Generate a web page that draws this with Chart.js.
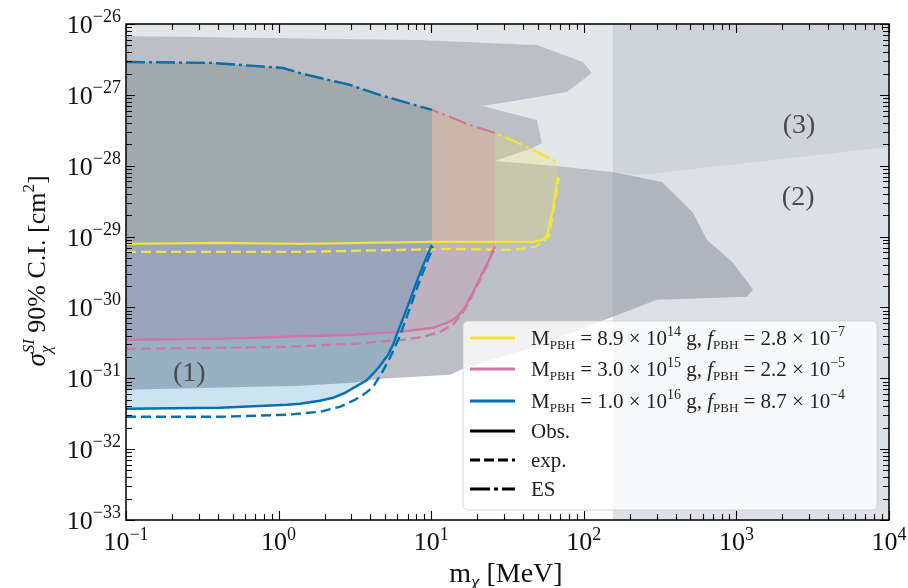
<!DOCTYPE html>
<html>
<head>
<meta charset="utf-8">
<script src="https://cdn.jsdelivr.net/npm/chart.js@4.4.1/dist/chart.umd.min.js"></script>
<style>
  html, body { margin: 0; padding: 0; background: #fff; }
  #wrap { width: 908px; height: 588px; }
</style>
</head>
<body>
<div id="wrap"><canvas id="chart" width="908" height="588"></canvas></div>
<script>
// ---- axis ranges / ticks ----
const xRange = [0.1, 1e4];
const yRange = [1e-33, 1e-26];
const xTickExps = [-1, 0, 1, 2, 3, 4];
const yTickExps = [-33, -32, -31, -30, -29, -28, -27, -26];

// ---- PBH curves: m_chi [MeV] vs sigma [cm^2] ----
// ES (dash-dot) upper edges
const esBlueMass = [0.1, 0.371, 1.07, 1.445, 2.94, 4.83, 10.1];
const esBlueSigma = [2.91e-27, 2.82e-27, 2.39e-27, 1.97e-27, 1.38e-27, 9.64e-28, 6.12e-28];
const esPinkMass = [0.1, 0.371, 1.07, 1.445, 2.94, 4.83, 10.1, 11.4, 17.9, 26.2];
const esPinkSigma = [2.91e-27, 2.82e-27, 2.39e-27, 1.97e-27, 1.38e-27, 9.64e-28, 6.12e-28, 5.56e-28, 3.76e-28, 2.90e-28];
const esYellowMass = [0.1, 0.371, 1.07, 1.445, 2.94, 4.83, 10.1, 11.4, 17.9, 26.2, 31.4, 46.4, 66.7];
const esYellowSigma = [2.91e-27, 2.82e-27, 2.39e-27, 1.97e-27, 1.38e-27, 9.64e-28, 6.12e-28, 5.56e-28, 3.76e-28, 2.90e-28, 2.47e-28, 1.67e-28, 1.13e-28];

// observed (solid) lower edges
const obsBlueMass = [0.1, 0.413, 1.135, 1.38, 1.867, 2.27, 2.72, 3.27, 3.74, 4.16, 4.62, 5.21, 5.62, 5.97, 6.44, 6.94, 7.48, 8.07, 8.56, 9.10, 10.1];
const obsBlueSigma = [3.71e-32, 3.84e-32, 4.23e-32, 4.37e-32, 4.82e-32, 5.31e-32, 6.24e-32, 7.84e-32, 9.23e-32, 1.16e-31, 1.50e-31, 2.14e-31, 2.96e-31, 4.24e-31, 6.47e-31, 9.87e-31, 1.51e-30, 2.37e-30, 3.28e-30, 4.54e-30, 7.64e-30];
const obsPinkMass = [0.1, 0.413, 1.135, 3.07, 6.24, 10.3, 12.7, 13.9, 14.98, 16.2, 17.4, 18.8, 20.3, 21.8, 23.6, 25.0, 26.2];
const obsPinkSigma = [3.49e-31, 3.61e-31, 3.85e-31, 4.11e-31, 4.53e-31, 5.16e-31, 6.07e-31, 6.68e-31, 7.62e-31, 9.25e-31, 1.20e-30, 1.66e-30, 2.30e-30, 3.18e-30, 4.40e-30, 6.08e-30, 7.16e-30];
const obsYellowMass = [0.1, 0.413, 1.38, 9.82, 20.9, 46.4, 53.2, 57.4, 62.9, 67.7];
const obsYellowSigma = [7.89e-30, 8.15e-30, 7.89e-30, 8.41e-30, 8.41e-30, 8.41e-30, 8.98e-30, 1.02e-29, 2.62e-29, 6.95e-29];

// expected (dashed)
const expBlueMass = [0.1, 0.413, 1.135, 1.867, 2.52, 3.17, 3.74, 4.16, 4.76, 5.37, 5.79, 6.24, 6.73, 7.26, 7.83, 8.45, 9.39, 10.3];
const expBlueSigma = [2.86e-32, 2.86e-32, 3.06e-32, 3.37e-32, 3.96e-32, 4.97e-32, 6.24e-32, 7.59e-32, 1.20e-31, 1.95e-31, 2.78e-31, 3.98e-31, 6.27e-31, 9.87e-31, 1.56e-30, 2.45e-30, 4.40e-30, 7.16e-30];
const expPinkMass = [0.1, 0.413, 1.135, 3.07, 6.53, 8.84, 11.4, 13.9, 16.2, 17.4, 18.8, 20.3, 21.8, 23.6, 25.0, 26.2];
const expPinkSigma = [2.61e-31, 2.69e-31, 2.78e-31, 3.07e-31, 3.49e-31, 3.85e-31, 4.53e-31, 5.69e-31, 8.67e-31, 1.12e-30, 1.56e-30, 2.15e-30, 2.98e-30, 4.12e-30, 5.70e-30, 6.71e-30];
const expYellowMass = [0.1, 1.38, 13.3, 34.4, 47.9, 54.0, 59.2, 63.8, 68.8];
const expYellowSigma = [6.08e-30, 6.08e-30, 6.71e-30, 6.49e-30, 7.16e-30, 8.41e-30, 1.02e-29, 2.62e-29, 6.73e-29];

// ---- other exclusion regions ----
const grayMass = [0.1, 8.45, 49.3, 98.8, 113, 77.6, 38.2, 21.8, 49.3, 53.2, 46.4, 26.2, 66.7, 155, 325, 520, 642, 950, 1284, 1173, 302, 155, 51.6, 16.2, 13.3, 4.62, 3.07, 1.38, 0.1];
const graySigma = [6.77e-27, 5.95e-27, 5.06e-27, 2.91e-27, 2.04e-27, 1.10e-27, 8.47e-28, 6.97e-28, 4.43e-28, 2.10e-28, 1.78e-28, 1.17e-28, 9.94e-29, 8.18e-29, 5.91e-29, 2.16e-29, 8.98e-30, 4.26e-30, 1.77e-30, 1.41e-30, 1.28e-30, 7.37e-31, 2.96e-31, 1.36e-31, 1.12e-31, 9.84e-32, 8.65e-32, 7.84e-32, 6.88e-32];
const region3Mass = [0.1, 1e4, 1e4, 233, 155, 66.7, 26.2, 46.4, 53.2, 49.3, 21.8, 38.2, 77.6, 113, 98.8, 49.3, 8.45, 0.1];
const region3Sigma = [1e-26, 1e-26, 1.84e-28, 7.41e-29, 8.18e-29, 9.94e-29, 1.17e-28, 1.78e-28, 2.10e-28, 4.43e-28, 6.97e-28, 8.47e-28, 1.10e-27, 2.04e-27, 2.91e-27, 5.06e-27, 5.95e-27, 6.77e-27];
const bandMass = [155, 1e4, 1e4, 155];
const bandSigma = [1e-26, 1e-26, 1e-33, 1e-33];

const regionLabels = ['(1)', '(2)', '(3)'];
const regionLabelMass = [0.26, 2540, 2570];
const regionLabelSigma = [1.24e-31, 3.75e-29, 3.89e-28];

const legendColors = ['#f0e442', '#cc79a7', '#0072b2'];
const legendMass = ['8.9', '3.0', '1.0'];
const legendMassExp = ['14', '15', '16'];
const legendF = ['2.8', '2.2', '8.7'];
const legendFExp = ['−7', '−5', '−4'];
const styleNames = ['Obs.', 'exp.', 'ES'];

const YEL = '#f0e442', PNK = '#cc79a7', BLU = '#0072b2';
const DASH = [10, 5];
const DASHDOT = [19, 4, 3, 4];

function pts(m, s) { return m.map((v, i) => ({x: v, y: s[i]})); }
function closed(topM, topS, botM, botS) {
    return pts(topM.concat(botM.slice().reverse()), topS.concat(botS.slice().reverse()));
}

function area(data, color, order) {
    return {data: data, fill: 'shape', backgroundColor: color, borderWidth: 0,
            pointRadius: 0, tension: 0, order: order};
}
function curve(m, s, color, dash, order) {
    return {data: pts(m, s), fill: false, borderColor: color, borderWidth: 2.4,
            borderDash: dash, pointRadius: 0, tension: 0, order: order};
}

const SERIF = '"Liberation Serif", "DejaVu Serif", serif';
function fontOf(p) { return (p.it ? 'italic ' : '') + p.s + 'px ' + SERIF; }

// rich text: parts {t, s, dy, it} or {stack:{sup, sub}, s, it}
function richWidth(ctx, parts) {
    let w = 0;
    parts.forEach(p => {
        ctx.font = fontOf(p);
        if (p.stack) {
            w += Math.max(ctx.measureText(p.stack.sup).width, ctx.measureText(p.stack.sub).width);
        } else {
            w += ctx.measureText(p.t).width;
        }
    });
    return w;
}
function rich(ctx, parts, x, y, align) {
    const w = richWidth(ctx, parts);
    let cx = align === 'center' ? x - w / 2 : (align === 'right' ? x - w : x);
    ctx.textAlign = 'left';
    ctx.textBaseline = 'alphabetic';
    parts.forEach(p => {
        ctx.font = fontOf(p);
        if (p.stack) {
            ctx.fillText(p.stack.sup, cx, y - 11);
            ctx.fillText(p.stack.sub, cx, y + 6);
            cx += Math.max(ctx.measureText(p.stack.sup).width, ctx.measureText(p.stack.sub).width);
        } else {
            ctx.fillText(p.t, cx, y + (p.dy || 0));
            cx += ctx.measureText(p.t).width;
        }
    });
}

// frame, inward ticks, labels, legend
const decor = {
    id: 'decor',
    afterDatasetsDraw(chart) {
        const {ctx, chartArea: a, scales: {x, y}} = chart;
        ctx.save();
        ctx.strokeStyle = '#000';
        ctx.lineWidth = 1.1;
        ctx.beginPath();
        for (let e = xTickExps[0]; e <= xTickExps[xTickExps.length - 1]; e++) {
            for (let k = 1; k <= 9; k++) {
                if (e === xTickExps[xTickExps.length - 1] && k > 1) break;
                const px = Math.round(x.getPixelForValue(k * Math.pow(10, e))) + 0.5;
                const len = k === 1 ? 9 : 6;
                ctx.moveTo(px, a.bottom); ctx.lineTo(px, a.bottom - len);
                ctx.moveTo(px, a.top); ctx.lineTo(px, a.top + len);
            }
        }
        for (let e = yTickExps[0]; e <= yTickExps[yTickExps.length - 1]; e++) {
            for (let k = 1; k <= 9; k++) {
                if (e === yTickExps[yTickExps.length - 1] && k > 1) break;
                const py = Math.round(y.getPixelForValue(k * Math.pow(10, e))) + 0.5;
                const len = k === 1 ? 9 : 6;
                ctx.moveTo(a.left, py); ctx.lineTo(a.left + len, py);
                ctx.moveTo(a.right, py); ctx.lineTo(a.right - len, py);
            }
        }
        ctx.stroke();
        ctx.lineWidth = 1.5;
        ctx.strokeRect(a.left, a.top, a.right - a.left, a.bottom - a.top);
        ctx.restore();
    },
    afterDraw(chart) {
        const {ctx, scales: {x, y}} = chart;
        ctx.save();
        ctx.fillStyle = '#111';
        // tick labels
        xTickExps.forEach(e => {
            const px = x.getPixelForValue(Math.pow(10, e));
            rich(ctx, [{t: '10', s: 26}, {t: e < 0 ? '−' + (-e) : String(e), s: 18, dy: -10}], px, 550, 'center');
        });
        yTickExps.forEach(e => {
            const py = y.getPixelForValue(Math.pow(10, e));
            rich(ctx, [{t: '10', s: 26}, {t: '−' + (-e), s: 18, dy: -11}], 121, py + 9, 'right');
        });
        // axis titles
        rich(ctx, [{t: 'm', s: 28}, {t: 'χ', s: 19, dy: 6, it: true}, {t: ' [MeV]', s: 28}], 506, 582, 'center');
        ctx.save();
        ctx.translate(45, 271);
        ctx.rotate(-Math.PI / 2);
        rich(ctx, [{t: 'σ', s: 27, it: true}, {stack: {sup: 'SI', sub: 'χ'}, s: 17, it: true},
                   {t: ' 90% C.I. [cm', s: 26}, {t: '2', s: 17, dy: -11}, {t: ']', s: 26}], 0, 0, 'center');
        ctx.restore();
        // region labels
        ctx.fillStyle = '#4a4a4a';
        regionLabels.forEach((t, i) => {
            rich(ctx, [{t: t, s: 28}], x.getPixelForValue(regionLabelMass[i]),
                 y.getPixelForValue(regionLabelSigma[i]) + 9, 'center');
        });
        // legend
        const lx = 463, ly = 321, lw = 414, lh = 189;
        ctx.beginPath();
        ctx.roundRect(lx, ly, lw, lh, 5);
        ctx.fillStyle = 'rgba(255,255,255,0.8)';
        ctx.fill();
        ctx.strokeStyle = 'rgba(204,204,204,0.8)';
        ctx.lineWidth = 1;
        ctx.stroke();
        const rows = [338, 369, 401, 431, 460, 489];
        rows.forEach((ry, i) => {
            ctx.beginPath();
            ctx.lineWidth = 3;
            ctx.strokeStyle = i < 3 ? legendColors[i] : '#000';
            ctx.setLineDash(i === 4 ? [10, 4] : (i === 5 ? [20, 4, 4, 4] : []));
            ctx.moveTo(470, ry); ctx.lineTo(515, ry);
            ctx.stroke();
            ctx.setLineDash([]);
            ctx.fillStyle = '#222';
            if (i < 3) {
                rich(ctx, [{t: 'M', s: 21}, {t: 'PBH', s: 13, dy: 4}, {t: ' = ' + legendMass[i] + ' × 10', s: 21},
                           {t: legendMassExp[i], s: 14, dy: -9}, {t: ' g, ', s: 21}, {t: 'f', s: 21, it: true},
                           {t: 'PBH', s: 13, dy: 4}, {t: ' = ' + legendF[i] + ' × 10', s: 21},
                           {t: legendFExp[i], s: 14, dy: -9}], 531, ry + 7, 'left');
            } else {
                rich(ctx, [{t: styleNames[i - 3], s: 21}], 531, ry + 7, 'left');
            }
        });
        ctx.restore();
    }
};

const datasets = [
    area(pts(bandMass, bandSigma), 'rgba(142,152,175,0.3)', 100),
    area(pts(region3Mass, region3Sigma), 'rgba(184,192,200,0.38)', 90),
    area(pts(grayMass, graySigma), 'rgba(152,156,166,0.65)', 80),
    area(closed(esYellowMass, esYellowSigma, obsYellowMass, obsYellowSigma), 'rgba(240,228,66,0.2)', 70),
    area(closed(esPinkMass, esPinkSigma, obsPinkMass, obsPinkSigma), 'rgba(204,121,167,0.2)', 60),
    area(closed(esBlueMass, esBlueSigma, obsBlueMass, obsBlueSigma), 'rgba(0,114,178,0.2)', 50),
    curve(expYellowMass, expYellowSigma, YEL, DASH, 32),
    curve(obsYellowMass, obsYellowSigma, YEL, [], 31),
    curve(esYellowMass, esYellowSigma, YEL, DASHDOT, 30),
    curve(expPinkMass, expPinkSigma, PNK, DASH, 22),
    curve(obsPinkMass, obsPinkSigma, PNK, [], 21),
    curve(esPinkMass, esPinkSigma, PNK, DASHDOT, 20),
    curve(expBlueMass, expBlueSigma, BLU, DASH, 12),
    curve(obsBlueMass, obsBlueSigma, BLU, [], 11),
    curve(esBlueMass, esBlueSigma, BLU, DASHDOT, 10)
];

new Chart(document.getElementById('chart'), {
    type: 'line',
    data: {datasets: datasets},
    options: {
        responsive: false,
        animation: false,
        devicePixelRatio: 1,
        layout: {padding: {left: 126, right: 19, top: 24, bottom: 68}},
        plugins: {legend: {display: false}, tooltip: {enabled: false}},
        scales: {
            x: {type: 'logarithmic', min: xRange[0], max: xRange[1], display: false},
            y: {type: 'logarithmic', min: yRange[0], max: yRange[1], display: false}
        }
    },
    plugins: [decor]
});
</script>
</body>
</html>
